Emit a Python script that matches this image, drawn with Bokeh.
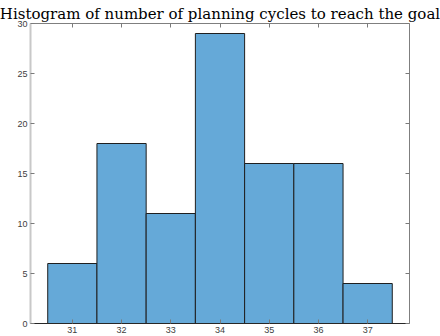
from bokeh.plotting import figure
from bokeh.models import Range1d, LinearAxis, FixedTicker, Title, ColumnDataSource
from bokeh.embed import file_html
from bokeh.resources import INLINE

# Data: histogram of planning cycles
cycles = [31, 32, 33, 34, 35, 36, 37]
counts = [6, 18, 11, 29, 16, 16, 4]
x_ticks = [31, 32, 33, 34, 35, 36, 37]
y_ticks = [0, 5, 10, 15, 20, 25, 30]
title_text = "Histogram of number of planning cycles to reach the goal"

src = ColumnDataSource(dict(x=cycles, top=counts))

p = figure(width=440, height=336, output_backend="svg", toolbar_location=None,
           x_range=Range1d(30.15, 37.85), y_range=Range1d(0, 30),
           x_axis_location=None, y_axis_location=None,
           min_border_left=30, min_border_right=31, min_border_top=23, min_border_bottom=13)
p.title = None
p.outline_line_color = None
p.xgrid.visible = False
p.ygrid.visible = False
p.background_fill_color = "white"
p.border_fill_color = "white"

p.vbar(x="x", top="top", width=1.0, bottom=0, source=src,
       fill_color="#65a9d8", line_color="#1f1f1f", line_width=1)

def mk_axis(ticks, show_labels, line_color, line_width=1):
    ax = LinearAxis(ticker=FixedTicker(ticks=ticks))
    ax.major_tick_in = 4
    ax.major_tick_out = 0
    ax.minor_tick_line_color = None
    ax.major_tick_line_color = "#7a7a7a"
    ax.axis_line_color = line_color
    ax.axis_line_width = line_width
    ax.major_label_text_font = "Liberation Sans"
    ax.major_label_text_color = "#404040"
    if show_labels:
        ax.major_label_text_font_size = "9px"
        ax.major_label_standoff = 3
    else:
        ax.major_label_text_font_size = "0px"
        ax.major_label_text_alpha = 0
        ax.major_label_standoff = 0
    return ax

p.add_layout(mk_axis(y_ticks, True, "#c8c8c8", 2), "left")
p.add_layout(mk_axis(x_ticks, True, "#262626", 1), "below")
p.add_layout(mk_axis(x_ticks, False, "#7f7f7f", 1), "above")
p.add_layout(mk_axis(y_ticks, False, "#7f7f7f", 1), "right")

title = Title(text=title_text, align="center", text_font="DejaVu Serif",
              text_font_size="15px", text_font_style="normal",
              text_color="black", standoff=2, offset=0)
p.add_layout(title, "above")

open("out.html", "w").write(file_html(p, INLINE))
